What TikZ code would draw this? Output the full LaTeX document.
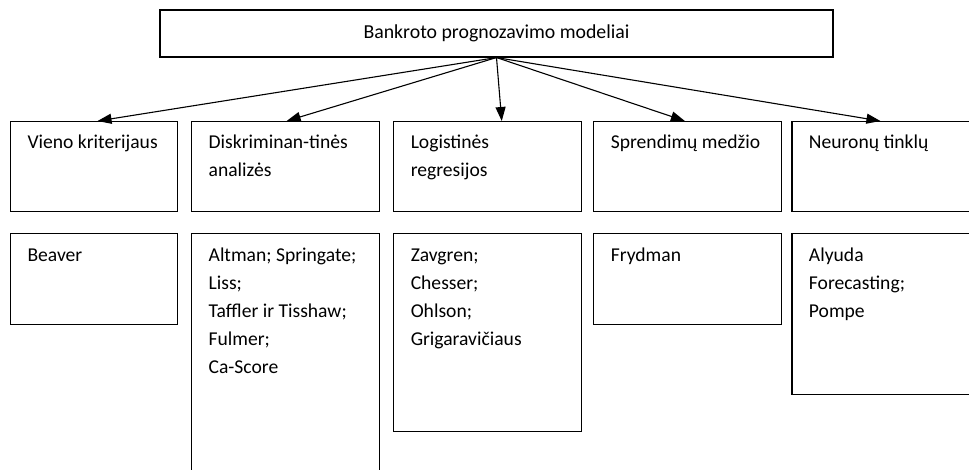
\documentclass[tikz,border=0pt]{standalone}
\usepackage{fontspec}
\setmainfont{Carlito}
\usepackage{tikz}
\usetikzlibrary{arrows.meta,positioning}
\tikzset{
  topbox/.style={draw=black,line width=1.1pt,rectangle,inner sep=0pt,minimum width=673pt,minimum height=47pt,font=\fontsize{19.8}{28}\selectfont},
  cell/.style={draw=black,line width=1.1pt,rectangle,align=flush left,inner xsep=17pt,inner ysep=0pt,text width=154pt,text height=27pt,font=\fontsize{19.6}{28}\selectfont,anchor=north west},
  subcell/.style={cell,text height=28pt},
  fan/.style={-{Triangle[length=14pt,width=10pt]},line width=1.1pt},
}
\begin{document}
\begin{tikzpicture}
    \useasboundingbox (0,0) rectangle (969pt,-470pt);
    \clip (0,0) rectangle (969pt,-470pt);
    % root
    \node[topbox] (root) at (496.5pt,-33.5pt) {Bankroto prognozavimo modeliai};
    % model groups
    \node[cell,text width=133pt,text depth=63pt] (vien) at (10pt,-121pt) {Vieno kriterijaus};
    \node[cell,text depth=63pt,right=13pt of vien.north east,anchor=north west] (disk) {Diskriminan-tinės\\analizės};
    \node[cell,text depth=63pt,right=13pt of disk.north east,anchor=north west] (logi) {Logistinės\\regresijos};
    \node[cell,text depth=63pt,right=11pt of logi.north east,anchor=north west] (medz) {Sprendimų medžio};
    \node[cell,text width=180pt,text depth=63pt,right=9pt of medz.north east,anchor=north west] (neur) {Neuronų tinklų};
    % authors
    \node[subcell,text width=133pt,text depth=63pt,below=21pt of vien.south west,anchor=north west] (beav) {Beaver};
    \node[subcell,text depth=272pt,below=21pt of disk.south west,anchor=north west] (altm) {Altman; Springate;\\Liss;\\Taffler ir Tisshaw;\\Fulmer;\\Ca-Score};
    \node[subcell,text depth=170pt,below=21pt of logi.south west,anchor=north west] (zavg) {Zavgren;\\Chesser;\\Ohlson;\\Grigaravičiaus};
    \node[subcell,text depth=63pt,below=21pt of medz.south west,anchor=north west] (fryd) {Frydman};
    \node[subcell,text width=180pt,text depth=133pt,below=21pt of neur.south west,anchor=north west] (alyu) {Alyuda\\Forecasting;\\Pompe};
    % arrows
    \draw[fan] (root.south) -- ([xshift=3.5pt]vien.north);
    \draw[fan] (root.south) -- ([xshift=1pt]disk.north);
    \draw[fan] (root.south) -- ([xshift=14pt]logi.north);
    \draw[fan] (root.south) -- ([xshift=-3pt]medz.north);
    \draw[fan] (root.south) -- ([xshift=89pt]neur.north west);
\end{tikzpicture}
\end{document}
